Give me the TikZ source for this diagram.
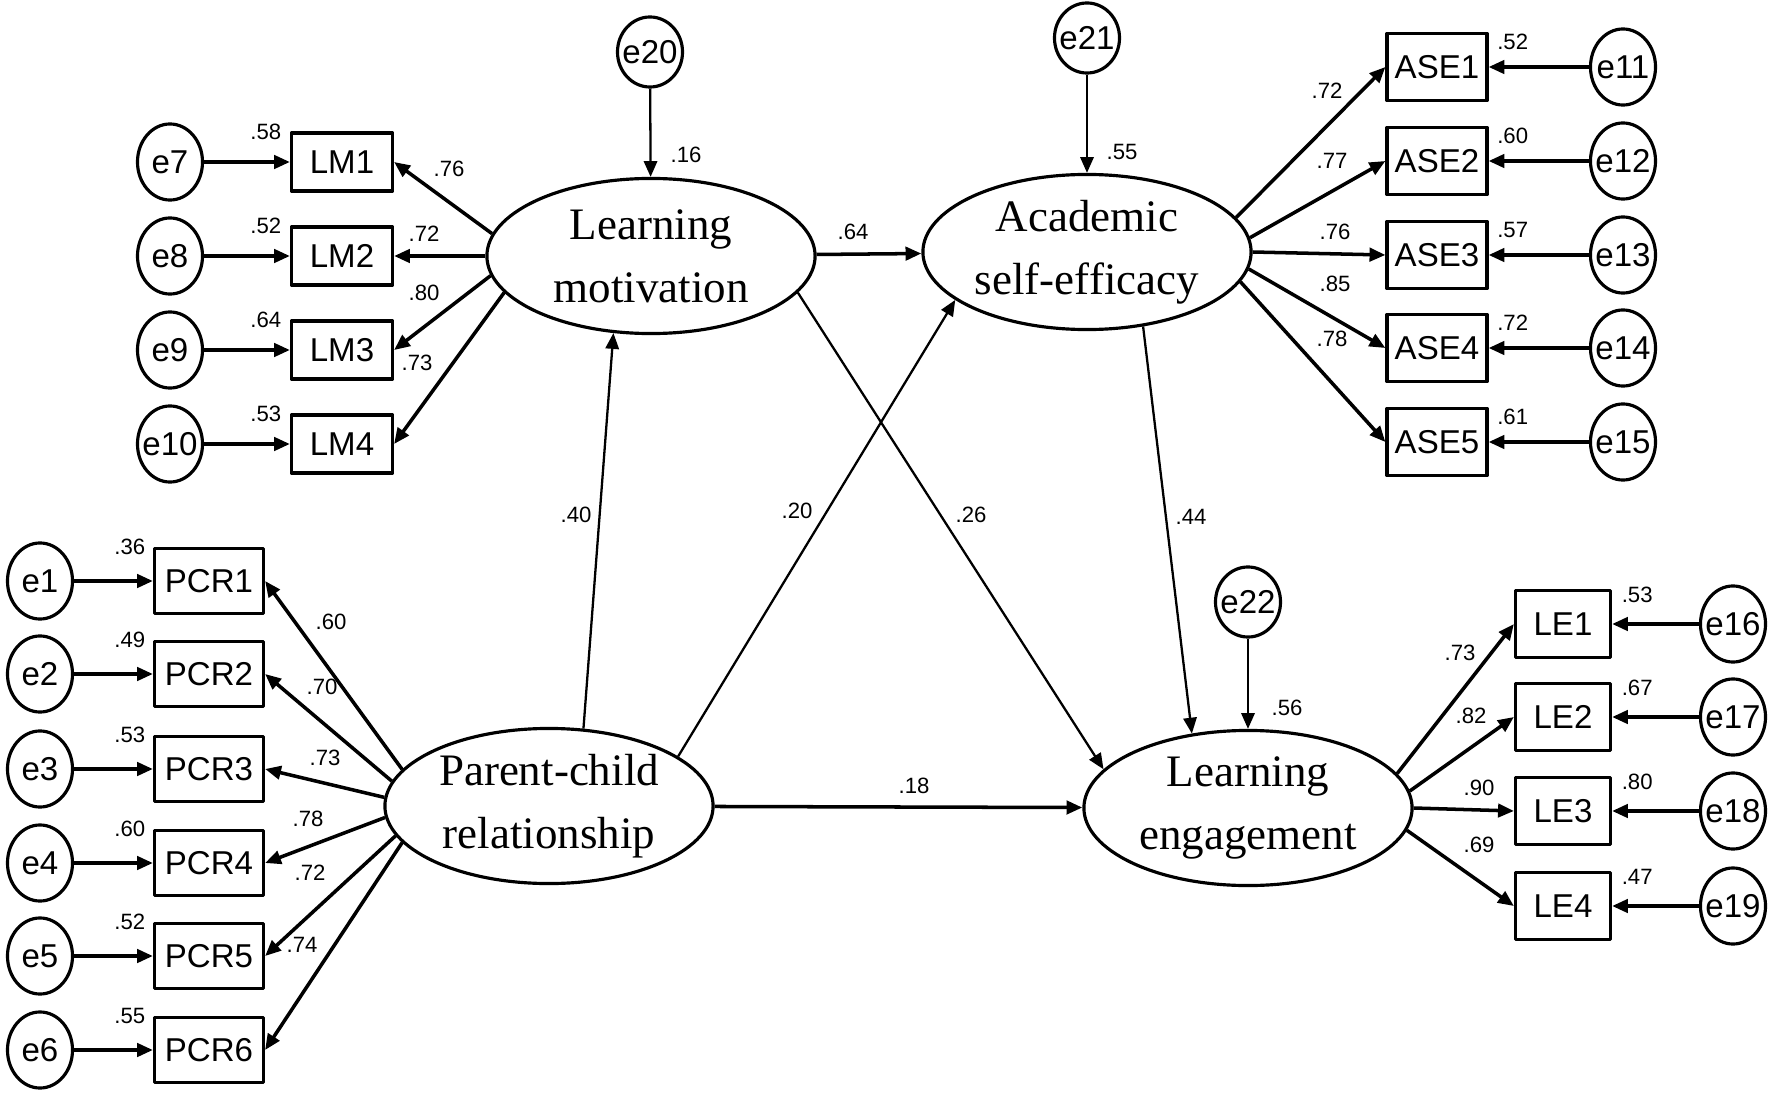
\documentclass[tikz,border=0pt]{standalone}
\usepackage{fontspec}
\setmainfont{Liberation Serif}
\setsansfont{Liberation Sans}
\usetikzlibrary{arrows.meta,shapes.geometric}
\begin{document}
\begin{tikzpicture}[x=.01cm,y=-.01cm,line join=round,>={Triangle[length=4.5pt,width=3.8pt]}]
\tikzset{obs/.style={draw,line width=.9pt,inner sep=0pt,minimum width=1.01cm,minimum height=.58cm,font=\sffamily\fontsize{9.4}{11}\selectfont},
    err/.style={ellipse,draw,line width=.9pt,inner xsep=-4pt,inner ysep=0pt,minimum width=.65cm,minimum height=.76cm,font=\sffamily\fontsize{9.4}{11}\selectfont},
    dist/.style={err,minimum height=.7cm},
    lat/.style={ellipse,draw,line width=.9pt,inner sep=0pt,minimum width=3.28cm,minimum height=1.55cm,align=center,font=\fontsize{12.8}{17.9}\selectfont},
    coef/.style={inner sep=0pt,font=\sffamily\fontsize{6.3}{7}\selectfont},
    load/.style={->,line width=1pt},
    reg/.style={->,line width=.65pt}}
\useasboundingbox (0,0) rectangle (1772,1094);
\node[lat] (lm) at (651,256) {Learning\\motivation};
\node[lat] (ase) at (1087,252) {Academic\\self-efficacy};
\node[lat] (pcr) at (549,806) {Parent-child\\relationship};
\node[lat] (le) at (1248,808) {Learning\\engagement};
\foreach \i/\err/\y/\ry/\ld/\ang/\lx/\ly in {1/7/162/.58/.76/172/449/169,2/8/256/.52/.72/180/424/234,3/9/350/.64/.80/187/424/293,4/10/444/.53/.73/194/417/363}{
    \node[obs] (lm\i) at (342,\y) {LM\i};
    \node[err] (e\err) at (170,\y) {e\err};
    \draw[load] (e\err) -- (lm\i);
    \draw[load] (lm.\ang) -- (lm\i.east);
    \node[coef,anchor=east] (rlm\i) at ([xshift=-.08cm]lm\i.north west) {\ry};
    \node[coef] (blm\i) at (\lx,\ly) {\ld};
}
\foreach \i/\err/\y/\ry/\ld/\ang/\lx/\ly in {1/11/67/.52/.72/13/1327/91,2/12/161/.60/.77/5/1332/161,3/13/255/.57/.76/0/1335/232,4/14/348/.72/.85/-6/1335/284,5/15/442/.61/.78/-11/1332/339}{
    \node[obs,minimum width=1cm,minimum height=.67cm] (ase\i) at (1437,\y) {ASE\i};
    \node[err] (e\err) at (1623,\y) {e\err};
    \draw[load] (e\err) -- (ase\i);
    \draw[load] (ase.\ang) -- (ase\i.west);
    \node[coef,anchor=west] (rase\i) at ([xshift=.08cm,yshift=-.1cm]ase\i.north east) {\ry};
    \node[coef] (base\i) at (\lx,\ly) {\ld};
}
\foreach \i/\y/\ry/\ld/\ang/\lx/\ly in {1/581/.36/.60/166/331/622,2/674/.49/.70/171/322/687,3/769/.53/.73/177/325/758,4/863/.60/.78/184/308/819,5/956/.52/.72/191/310/873,6/1050/.55/.74/194/302/945}{
    \node[obs,minimum width=1.09cm,minimum height=.65cm] (pcr\i) at (209,\y) {PCR\i};
    \node[err] (e\i) at (40,\y) {e\i};
    \draw[load] (e\i) -- (pcr\i);
    \draw[load] (pcr.\ang) -- (pcr\i.east);
    \node[coef,anchor=east] (rpcr\i) at ([xshift=-.07cm]pcr\i.north west) {\ry};
    \node[coef] (bpcr\i) at (\lx,\ly) {\ld};
}
\foreach \i/\err/\y/\ry/\ld/\ang/\lx/\ly in {1/16/624/.53/.73/13/1460/653,2/17/717/.67/.82/6/1471/716,3/18/811/.80/.90/0/1479/788,4/19/906/.47/.69/-8/1479/845}{
    \node[obs,minimum width=.95cm,minimum height=.67cm] (le\i) at (1563,\y) {LE\i};
    \node[err] (e\err) at (1733,\y) {e\err};
    \draw[load] (e\err) -- (le\i);
    \draw[load] (le.\ang) -- (le\i.west);
    \node[coef,anchor=west] (rle\i) at ([xshift=.09cm,yshift=-.06cm]le\i.north east) {\ry};
    \node[coef] (ble\i) at (\lx,\ly) {\ld};
}
\node[dist] (e20) at (650,52) {e20};
\node[dist] (e21) at (1087,38) {e21};
\node[dist] (e22) at (1248,602) {e22};
\draw[reg] (e20) -- (lm);
\draw[reg] (e21) -- (ase);
\draw[reg] (e22) -- (le);
\draw[load] (lm) -- (ase);
\draw[reg] (pcr.66) -- (lm.244);
\draw[reg] (pcr.21) -- (ase.200);
\draw[reg] (lm.-14) -- (le.165);
\draw[reg] (ase.-53) -- (le.127);
\draw[load] (pcr) -- (le);
\node[coef] (r20) at (686,155) {.16};
\node[coef] (r21) at (1122,152) {.55};
\node[coef] (r22) at (1287,708) {.56};
\node[coef] (b1) at (853,232) {.64};
\node[coef] (b2) at (576,515) {.40};
\node[coef] (b3) at (797,511) {.20};
\node[coef] (b4) at (971,515) {.26};
\node[coef] (b5) at (1191,517) {.44};
\node[coef] (b6) at (914,786) {.18};
\end{tikzpicture}
\end{document}
